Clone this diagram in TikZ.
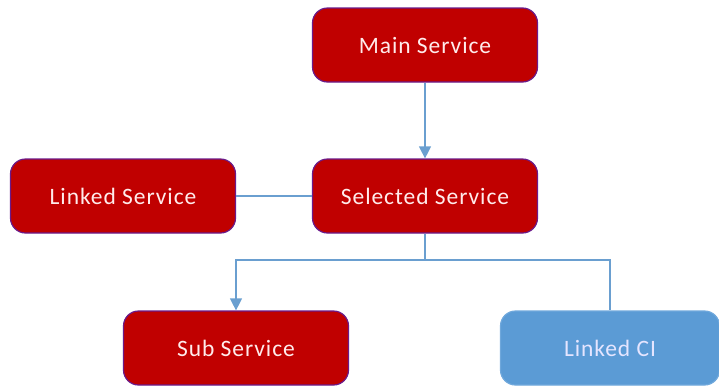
\documentclass[tikz,border=0pt]{standalone}
\usepackage{fontspec}
\setmainfont{Carlito}
\newfontfamily\boxfont[LetterSpace=4]{Carlito}
\usetikzlibrary{arrows.meta}
\definecolor{boxred}{HTML}{C00000}
\definecolor{boxedge}{HTML}{6A1A8A}
\definecolor{ciblue}{HTML}{5B9BD5}
\definecolor{ciedge}{HTML}{6FA8DC}
\definecolor{linkblue}{HTML}{6A9FD0}
\begin{document}
\begin{tikzpicture}[x=1pt,y=-1pt,
  svc/.style={draw=boxedge, line width=1.2pt, fill=boxred, rounded corners=15pt,
    minimum width=225pt, minimum height=74pt, text=white!92!red,
    font=\boxfont\fontsize{23.5}{27}\selectfont, inner sep=0pt},
  ci/.style={svc, draw=ciedge, fill=ciblue, text=white!90!blue},
  conn/.style={draw=linkblue, line width=1.2pt},
  tip/.style={-{Triangle[length=12pt,width=12pt]}}]
\useasboundingbox (0,0) rectangle (719,386);
\node[svc] (main) at (425,45) {Main Service};
\node[svc] (sel) at (425,196) {Selected Service};
\node[svc] (link) at (123,196) {Linked Service};
\node[svc] (sub) at (236,348) {Sub Service};
\node[ci, minimum width=219pt] (lci) at (610,348) {Linked CI};
\coordinate (j) at (425,260);
\draw[conn,tip] (main) -- (sel);
\draw[conn] (link) -- (sel);
\draw[conn] (sel.south) -- (j);
\draw[conn,tip] (j) -| (sub.north);
\draw[conn] (j) -| (lci.north);
\end{tikzpicture}
\end{document}
